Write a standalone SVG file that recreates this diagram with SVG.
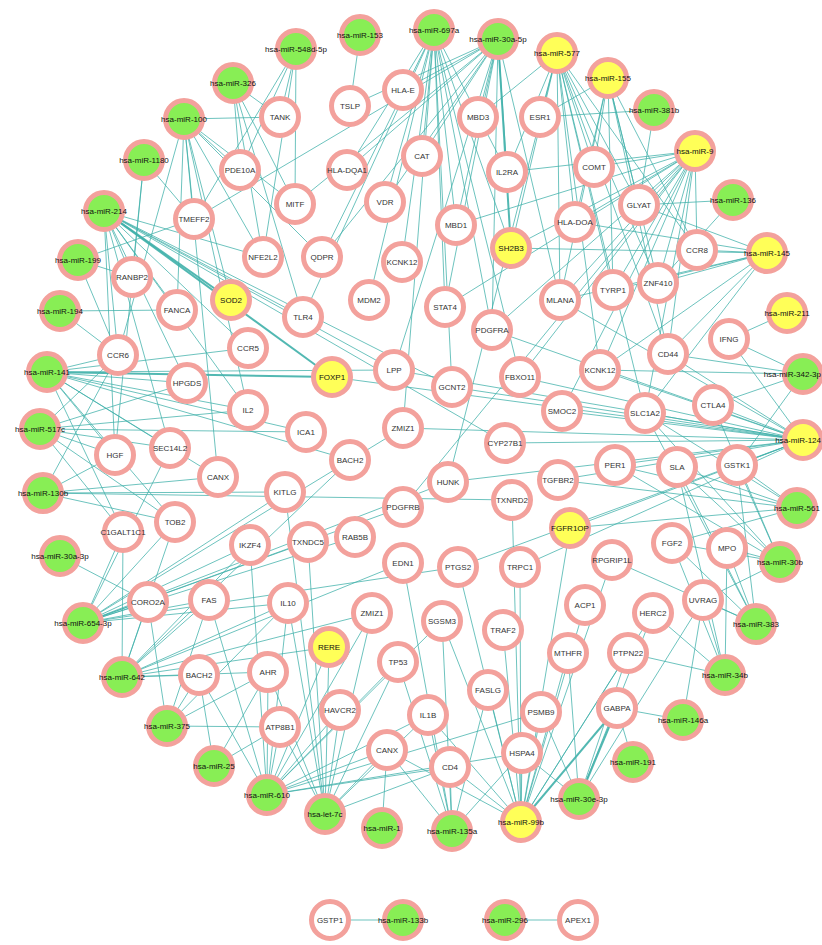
<svg xmlns="http://www.w3.org/2000/svg" width="822" height="945" viewBox="0 0 822 945">
<style>
#edges line{stroke:#3fb0aa;stroke-width:0.85;stroke-opacity:0.9}
#edges line.t{stroke-width:2}
.n circle{stroke:#f3a19c;stroke-width:5;fill:#fff}
.m circle{fill:#88ee55}
.y circle{fill:#ffff58}
.n text{font-family:"Liberation Sans",Arial,sans-serif;font-size:8px;fill:#333;text-anchor:middle;dominant-baseline:central}
.m text,.y text{fill:#111}
.n text.e{text-anchor:end}
</style>
<rect width="822" height="945" fill="#fff"/>
<g id="edges">
<line x1="296" y1="49" x2="280" y2="117"/><line x1="296" y1="49" x2="295" y2="204"/><line x1="296" y1="49" x2="240" y2="170"/><line x1="296" y1="49" x2="194" y2="219"/><line x1="296" y1="49" x2="263" y2="257"/>
<line x1="360" y1="35" x2="350" y2="106"/>
<line x1="434" y1="30" x2="422" y2="156"/><line x1="434" y1="30" x2="456" y2="225"/><line x1="434" y1="30" x2="507" y2="172"/><line x1="434" y1="30" x2="445" y2="307"/><line x1="434" y1="30" x2="402" y2="262"/><line x1="434" y1="30" x2="369" y2="300"/><line x1="434" y1="30" x2="520" y2="377"/><line x1="434" y1="30" x2="492" y2="330"/><line x1="434" y1="30" x2="347" y2="170"/><line x1="434" y1="30" x2="452" y2="387"/><line x1="434" y1="30" x2="511" y2="248"/><line x1="434" y1="30" x2="385" y2="202"/><line x1="434" y1="30" x2="403" y2="428"/><line x1="434" y1="30" x2="322" y2="257"/><line x1="434" y1="30" x2="303" y2="317"/>
<line x1="498" y1="39" x2="478" y2="117"/><line x1="498" y1="39" x2="507" y2="172"/><line x1="498" y1="39" x2="456" y2="225"/><line x1="498" y1="39" x2="422" y2="156"/><line x1="498" y1="39" x2="511" y2="248" class="t"/><line x1="498" y1="39" x2="445" y2="307"/><line x1="498" y1="39" x2="347" y2="170"/><line x1="498" y1="39" x2="492" y2="330"/><line x1="498" y1="39" x2="295" y2="204"/><line x1="498" y1="39" x2="350" y2="106"/><line x1="498" y1="39" x2="403" y2="90"/><line x1="498" y1="39" x2="194" y2="219"/><line x1="498" y1="39" x2="394" y2="370"/><line x1="498" y1="39" x2="560" y2="300"/><line x1="498" y1="39" x2="322" y2="257"/><line x1="498" y1="39" x2="385" y2="202"/>
<line x1="557" y1="53" x2="540" y2="117"/><line x1="557" y1="53" x2="575" y2="222"/><line x1="557" y1="53" x2="594" y2="167"/><line x1="557" y1="53" x2="639" y2="205"/><line x1="557" y1="53" x2="560" y2="300"/><line x1="557" y1="53" x2="613" y2="290"/><line x1="557" y1="53" x2="600" y2="370"/><line x1="557" y1="53" x2="511" y2="248"/><line x1="557" y1="53" x2="507" y2="172"/><line x1="557" y1="53" x2="697" y2="250"/><line x1="557" y1="53" x2="668" y2="354"/><line x1="557" y1="53" x2="478" y2="117"/><line x1="557" y1="53" x2="645" y2="413"/><line x1="557" y1="53" x2="658" y2="283"/><line x1="557" y1="53" x2="448" y2="482"/>
<line x1="608" y1="78" x2="594" y2="167"/><line x1="608" y1="78" x2="639" y2="205"/><line x1="608" y1="78" x2="575" y2="222"/><line x1="608" y1="78" x2="658" y2="283"/><line x1="608" y1="78" x2="613" y2="290"/><line x1="608" y1="78" x2="540" y2="117"/><line x1="608" y1="78" x2="697" y2="250"/><line x1="608" y1="78" x2="668" y2="354"/><line x1="608" y1="78" x2="560" y2="300"/>
<line x1="654" y1="110" x2="540" y2="117"/><line x1="654" y1="110" x2="639" y2="205"/>
<line x1="695" y1="151" x2="594" y2="167"/><line x1="695" y1="151" x2="639" y2="205"/><line x1="695" y1="151" x2="575" y2="222"/><line x1="695" y1="151" x2="511" y2="248"/><line x1="695" y1="151" x2="658" y2="283"/><line x1="695" y1="151" x2="613" y2="290"/><line x1="695" y1="151" x2="600" y2="370"/><line x1="695" y1="151" x2="560" y2="300"/><line x1="695" y1="151" x2="668" y2="354"/><line x1="695" y1="151" x2="492" y2="330"/><line x1="695" y1="151" x2="645" y2="413"/><line x1="695" y1="151" x2="445" y2="307"/><line x1="695" y1="151" x2="507" y2="172"/><line x1="695" y1="151" x2="520" y2="377"/><line x1="695" y1="151" x2="562" y2="411"/><line x1="695" y1="151" x2="697" y2="250"/><line x1="695" y1="151" x2="456" y2="225"/><line x1="695" y1="151" x2="403" y2="507"/>
<line x1="733" y1="200" x2="658" y2="283"/><line x1="733" y1="200" x2="639" y2="205"/>
<line x1="767" y1="253" x2="697" y2="250"/><line x1="767" y1="253" x2="658" y2="283"/><line x1="767" y1="253" x2="613" y2="290"/><line x1="767" y1="253" x2="668" y2="354"/><line x1="767" y1="253" x2="645" y2="413"/><line x1="767" y1="253" x2="560" y2="300"/><line x1="767" y1="253" x2="600" y2="370"/><line x1="767" y1="253" x2="639" y2="205"/><line x1="767" y1="253" x2="575" y2="222"/><line x1="767" y1="253" x2="511" y2="248"/>
<line x1="787" y1="313" x2="729" y2="339"/>
<line x1="803" y1="374" x2="668" y2="354"/><line x1="803" y1="374" x2="729" y2="339"/><line x1="803" y1="374" x2="713" y2="405"/><line x1="803" y1="374" x2="600" y2="370"/><line x1="803" y1="374" x2="737" y2="465"/>
<line x1="803" y1="440" x2="713" y2="405"/><line x1="803" y1="440" x2="645" y2="413"/><line x1="803" y1="440" x2="600" y2="370"/><line x1="803" y1="440" x2="668" y2="354"/><line x1="803" y1="440" x2="737" y2="465"/><line x1="803" y1="440" x2="562" y2="411"/><line x1="803" y1="440" x2="560" y2="300"/><line x1="803" y1="440" x2="492" y2="330"/><line x1="803" y1="440" x2="520" y2="377"/><line x1="803" y1="440" x2="452" y2="387"/><line x1="803" y1="440" x2="332" y2="377"/><line x1="803" y1="440" x2="729" y2="339"/><line x1="803" y1="440" x2="558" y2="480"/><line x1="803" y1="440" x2="615" y2="465"/><line x1="803" y1="440" x2="505" y2="443"/><line x1="803" y1="440" x2="394" y2="370"/><line x1="803" y1="440" x2="448" y2="482"/><line x1="803" y1="440" x2="570" y2="528"/><line x1="803" y1="440" x2="403" y2="428"/><line x1="803" y1="440" x2="458" y2="567"/><line x1="803" y1="440" x2="520" y2="567"/>
<line x1="797" y1="508" x2="737" y2="465"/><line x1="797" y1="508" x2="677" y2="467"/><line x1="797" y1="508" x2="570" y2="528"/><line x1="797" y1="508" x2="672" y2="543"/><line x1="797" y1="508" x2="615" y2="465"/><line x1="797" y1="508" x2="558" y2="480"/><line x1="797" y1="508" x2="645" y2="413"/>
<line x1="780" y1="562" x2="727" y2="548"/><line x1="780" y1="562" x2="737" y2="465"/><line x1="780" y1="562" x2="677" y2="467"/><line x1="780" y1="562" x2="672" y2="543"/><line x1="780" y1="562" x2="645" y2="413"/><line x1="780" y1="562" x2="615" y2="465"/><line x1="780" y1="562" x2="703" y2="600"/><line x1="780" y1="562" x2="713" y2="405"/>
<line x1="756" y1="624" x2="727" y2="548"/><line x1="756" y1="624" x2="703" y2="600"/><line x1="756" y1="624" x2="677" y2="467"/><line x1="756" y1="624" x2="672" y2="543"/><line x1="756" y1="624" x2="737" y2="465"/><line x1="756" y1="624" x2="645" y2="413"/><line x1="756" y1="624" x2="612" y2="560"/>
<line x1="725" y1="675" x2="653" y2="613"/><line x1="725" y1="675" x2="703" y2="600"/><line x1="725" y1="675" x2="672" y2="543"/><line x1="725" y1="675" x2="628" y2="653"/><line x1="725" y1="675" x2="727" y2="548"/><line x1="725" y1="675" x2="677" y2="467"/>
<line x1="683" y1="720" x2="617" y2="708"/><line x1="683" y1="720" x2="703" y2="600"/>
<line x1="633" y1="762" x2="617" y2="708"/>
<line x1="579" y1="799" x2="617" y2="708" class="t"/><line x1="579" y1="799" x2="541" y2="712"/><line x1="579" y1="799" x2="522" y2="753"/><line x1="579" y1="799" x2="628" y2="653"/><line x1="579" y1="799" x2="653" y2="613"/><line x1="579" y1="799" x2="568" y2="653"/><line x1="579" y1="799" x2="703" y2="600"/>
<line x1="521" y1="822" x2="522" y2="753"/><line x1="521" y1="822" x2="450" y2="767"/><line x1="521" y1="822" x2="617" y2="708" class="t"/><line x1="521" y1="822" x2="628" y2="653"/><line x1="521" y1="822" x2="488" y2="690"/><line x1="521" y1="822" x2="541" y2="712"/><line x1="521" y1="822" x2="503" y2="630"/><line x1="521" y1="822" x2="568" y2="653"/><line x1="521" y1="822" x2="520" y2="567"/><line x1="521" y1="822" x2="653" y2="613"/><line x1="521" y1="822" x2="387" y2="750"/><line x1="521" y1="822" x2="428" y2="715"/><line x1="521" y1="822" x2="585" y2="605"/><line x1="521" y1="822" x2="442" y2="621"/><line x1="521" y1="822" x2="458" y2="567"/><line x1="521" y1="822" x2="612" y2="560"/><line x1="521" y1="822" x2="512" y2="500"/><line x1="521" y1="822" x2="570" y2="528"/>
<line x1="452" y1="831" x2="450" y2="767"/><line x1="452" y1="831" x2="428" y2="715"/><line x1="452" y1="831" x2="387" y2="750"/><line x1="452" y1="831" x2="442" y2="621"/><line x1="452" y1="831" x2="488" y2="690"/><line x1="452" y1="831" x2="398" y2="662"/><line x1="452" y1="831" x2="522" y2="753"/><line x1="452" y1="831" x2="403" y2="563"/>
<line x1="382" y1="828" x2="387" y2="750"/>
<line x1="325" y1="814" x2="340" y2="710"/><line x1="325" y1="814" x2="280" y2="727"/><line x1="325" y1="814" x2="288" y2="603"/><line x1="325" y1="814" x2="329" y2="647"/><line x1="325" y1="814" x2="387" y2="750"/><line x1="325" y1="814" x2="428" y2="715"/><line x1="325" y1="814" x2="398" y2="662"/><line x1="325" y1="814" x2="372" y2="613"/><line x1="325" y1="814" x2="450" y2="767"/><line x1="325" y1="814" x2="268" y2="672"/><line x1="325" y1="814" x2="308" y2="542"/><line x1="325" y1="814" x2="285" y2="492"/>
<line x1="267" y1="795" x2="280" y2="727"/><line x1="267" y1="795" x2="340" y2="710"/><line x1="267" y1="795" x2="387" y2="750"/><line x1="267" y1="795" x2="268" y2="672"/><line x1="267" y1="795" x2="288" y2="603"/><line x1="267" y1="795" x2="329" y2="647"/><line x1="267" y1="795" x2="372" y2="613"/><line x1="267" y1="795" x2="428" y2="715"/><line x1="267" y1="795" x2="450" y2="767"/><line x1="267" y1="795" x2="199" y2="675"/><line x1="267" y1="795" x2="209" y2="600"/><line x1="267" y1="795" x2="398" y2="662"/><line x1="267" y1="795" x2="442" y2="621"/><line x1="267" y1="795" x2="541" y2="712"/><line x1="267" y1="795" x2="522" y2="753"/><line x1="267" y1="795" x2="250" y2="545"/>
<line x1="214" y1="766" x2="268" y2="672"/><line x1="214" y1="766" x2="199" y2="675"/><line x1="214" y1="766" x2="280" y2="727"/>
<line x1="167" y1="726" x2="199" y2="675"/><line x1="167" y1="726" x2="268" y2="672"/><line x1="167" y1="726" x2="280" y2="727"/><line x1="167" y1="726" x2="209" y2="600"/><line x1="167" y1="726" x2="288" y2="603"/><line x1="167" y1="726" x2="148" y2="602"/>
<line x1="122" y1="677" x2="148" y2="602"/><line x1="122" y1="677" x2="199" y2="675"/><line x1="122" y1="677" x2="268" y2="672"/><line x1="122" y1="677" x2="209" y2="600"/><line x1="122" y1="677" x2="288" y2="603"/><line x1="122" y1="677" x2="329" y2="647"/><line x1="122" y1="677" x2="403" y2="563"/><line x1="122" y1="677" x2="372" y2="613"/><line x1="122" y1="677" x2="175" y2="522"/><line x1="122" y1="677" x2="123" y2="532"/><line x1="122" y1="677" x2="250" y2="545"/><line x1="122" y1="677" x2="350" y2="460"/>
<line x1="83" y1="623" x2="123" y2="532"/><line x1="83" y1="623" x2="148" y2="602"/><line x1="83" y1="623" x2="209" y2="600"/><line x1="83" y1="623" x2="250" y2="545"/><line x1="83" y1="623" x2="175" y2="522"/><line x1="83" y1="623" x2="285" y2="492"/><line x1="83" y1="623" x2="288" y2="603"/><line x1="83" y1="623" x2="308" y2="542"/><line x1="83" y1="623" x2="355" y2="537"/><line x1="83" y1="623" x2="403" y2="507"/><line x1="83" y1="623" x2="448" y2="482"/><line x1="83" y1="623" x2="170" y2="448"/><line x1="83" y1="623" x2="403" y2="428"/><line x1="83" y1="623" x2="458" y2="567"/>
<line x1="60" y1="556" x2="148" y2="602"/>
<line x1="43" y1="493" x2="175" y2="522"/><line x1="43" y1="493" x2="285" y2="492"/><line x1="43" y1="493" x2="218" y2="477"/><line x1="43" y1="493" x2="115" y2="455"/><line x1="43" y1="493" x2="118" y2="355"/><line x1="43" y1="493" x2="512" y2="500"/>
<line x1="40" y1="429" x2="118" y2="355"/><line x1="40" y1="429" x2="187" y2="383"/><line x1="40" y1="429" x2="115" y2="455"/><line x1="40" y1="429" x2="170" y2="448"/><line x1="40" y1="429" x2="123" y2="532"/><line x1="40" y1="429" x2="248" y2="410"/><line x1="40" y1="429" x2="306" y2="432"/><line x1="40" y1="429" x2="175" y2="522"/>
<line x1="47" y1="372" x2="118" y2="355"/><line x1="47" y1="372" x2="187" y2="383"/><line x1="47" y1="372" x2="248" y2="348"/><line x1="47" y1="372" x2="332" y2="377" class="t"/><line x1="47" y1="372" x2="170" y2="448"/><line x1="47" y1="372" x2="115" y2="455"/><line x1="47" y1="372" x2="175" y2="522"/><line x1="47" y1="372" x2="306" y2="432"/><line x1="47" y1="372" x2="394" y2="370"/><line x1="47" y1="372" x2="218" y2="477"/><line x1="47" y1="372" x2="350" y2="460"/><line x1="47" y1="372" x2="123" y2="532"/><line x1="47" y1="372" x2="248" y2="410"/>
<line x1="60" y1="311" x2="177" y2="310"/><line x1="60" y1="311" x2="118" y2="355"/>
<line x1="78" y1="260" x2="132" y2="277"/><line x1="78" y1="260" x2="194" y2="219"/><line x1="78" y1="260" x2="118" y2="355"/>
<line x1="104" y1="211" x2="132" y2="277"/><line x1="104" y1="211" x2="177" y2="310"/><line x1="104" y1="211" x2="231" y2="300" class="t"/><line x1="104" y1="211" x2="332" y2="377" class="t"/><line x1="104" y1="211" x2="118" y2="355"/><line x1="104" y1="211" x2="187" y2="383"/><line x1="104" y1="211" x2="303" y2="317"/><line x1="104" y1="211" x2="394" y2="370"/><line x1="104" y1="211" x2="115" y2="455"/><line x1="104" y1="211" x2="170" y2="448"/><line x1="104" y1="211" x2="248" y2="348"/><line x1="104" y1="211" x2="452" y2="387"/><line x1="104" y1="211" x2="505" y2="443"/><line x1="104" y1="211" x2="263" y2="257"/><line x1="104" y1="211" x2="248" y2="410"/>
<line x1="144" y1="160" x2="194" y2="219"/><line x1="144" y1="160" x2="132" y2="277"/><line x1="144" y1="160" x2="115" y2="455"/>
<line x1="184" y1="119" x2="280" y2="117"/><line x1="184" y1="119" x2="240" y2="170"/><line x1="184" y1="119" x2="194" y2="219"/><line x1="184" y1="119" x2="263" y2="257"/><line x1="184" y1="119" x2="322" y2="257"/><line x1="184" y1="119" x2="231" y2="300"/><line x1="184" y1="119" x2="295" y2="204"/><line x1="184" y1="119" x2="118" y2="355"/><line x1="184" y1="119" x2="177" y2="310"/><line x1="184" y1="119" x2="248" y2="410"/><line x1="184" y1="119" x2="218" y2="477"/>
<line x1="233" y1="83" x2="280" y2="117"/><line x1="233" y1="83" x2="240" y2="170"/><line x1="233" y1="83" x2="295" y2="204"/><line x1="233" y1="83" x2="263" y2="257"/><line x1="233" y1="83" x2="303" y2="317"/>
<line x1="330" y1="920" x2="403" y2="920"/><line x1="505" y1="920" x2="578" y2="920"/>
</g>
<g id="n-hsa-miR-548d-5p" class="n m"><circle cx="296" cy="49" r="18.5"/><text x="296" y="49">hsa-miR-548d-5p</text></g>
<g id="n-hsa-miR-153" class="n m"><circle cx="360" cy="35" r="18.5"/><text x="360" y="35">hsa-miR-153</text></g>
<g id="n-hsa-miR-697a" class="n m"><circle cx="434" cy="30" r="18.5"/><text x="434" y="30">hsa-miR-697a</text></g>
<g id="n-hsa-miR-30a-5p" class="n m"><circle cx="498" cy="39" r="18.5"/><text x="498" y="39">hsa-miR-30a-5p</text></g>
<g id="n-hsa-miR-577" class="n y"><circle cx="557" cy="53" r="18.5"/><text x="557" y="53">hsa-miR-577</text></g>
<g id="n-hsa-miR-155" class="n y"><circle cx="608" cy="78" r="18.5"/><text x="608" y="78">hsa-miR-155</text></g>
<g id="n-hsa-miR-381b" class="n m"><circle cx="654" cy="110" r="18.5"/><text x="654" y="110">hsa-miR-381b</text></g>
<g id="n-hsa-miR-9" class="n y"><circle cx="695" cy="151" r="18.5"/><text x="695" y="151">hsa-miR-9</text></g>
<g id="n-hsa-miR-136" class="n m"><circle cx="733" cy="200" r="18.5"/><text x="733" y="200">hsa-miR-136</text></g>
<g id="n-hsa-miR-145" class="n y"><circle cx="767" cy="253" r="18.5"/><text x="767" y="253">hsa-miR-145</text></g>
<g id="n-hsa-miR-211" class="n y"><circle cx="787" cy="313" r="18.5"/><text x="787" y="313">hsa-miR-211</text></g>
<g id="n-hsa-miR-342" class="n m"><circle cx="803" cy="374" r="18.5"/><text class="e" x="821" y="374">hsa-miR-342-3p</text></g>
<g id="n-hsa-miR-124" class="n y"><circle cx="803" cy="440" r="18.5"/><text class="e" x="821" y="440">hsa-miR-124</text></g>
<g id="n-hsa-miR-561" class="n m"><circle cx="797" cy="508" r="18.5"/><text x="797" y="508">hsa-miR-561</text></g>
<g id="n-hsa-miR-30b" class="n m"><circle cx="780" cy="562" r="18.5"/><text x="780" y="562">hsa-miR-30b</text></g>
<g id="n-hsa-miR-383" class="n m"><circle cx="756" cy="624" r="18.5"/><text x="756" y="624">hsa-miR-383</text></g>
<g id="n-hsa-miR-34b" class="n m"><circle cx="725" cy="675" r="18.5"/><text x="725" y="675">hsa-miR-34b</text></g>
<g id="n-hsa-miR-146a" class="n m"><circle cx="683" cy="720" r="18.5"/><text x="683" y="720">hsa-miR-146a</text></g>
<g id="n-hsa-miR-191" class="n m"><circle cx="633" cy="762" r="18.5"/><text x="633" y="762">hsa-miR-191</text></g>
<g id="n-hsa-miR-30e-3p" class="n m"><circle cx="579" cy="799" r="18.5"/><text x="579" y="799">hsa-miR-30e-3p</text></g>
<g id="n-hsa-miR-99b" class="n y"><circle cx="521" cy="822" r="18.5"/><text x="521" y="822">hsa-miR-99b</text></g>
<g id="n-hsa-miR-135a" class="n m"><circle cx="452" cy="831" r="18.5"/><text x="452" y="831">hsa-miR-135a</text></g>
<g id="n-hsa-miR-1" class="n m"><circle cx="382" cy="828" r="18.5"/><text x="382" y="828">hsa-miR-1</text></g>
<g id="n-hsa-let-7c" class="n m"><circle cx="325" cy="814" r="18.5"/><text x="325" y="814">hsa-let-7c</text></g>
<g id="n-hsa-miR-610" class="n m"><circle cx="267" cy="795" r="18.5"/><text x="267" y="795">hsa-miR-610</text></g>
<g id="n-hsa-miR-25" class="n m"><circle cx="214" cy="766" r="18.5"/><text x="214" y="766">hsa-miR-25</text></g>
<g id="n-hsa-miR-375" class="n m"><circle cx="167" cy="726" r="18.5"/><text x="167" y="726">hsa-miR-375</text></g>
<g id="n-hsa-miR-642" class="n m"><circle cx="122" cy="677" r="18.5"/><text x="122" y="677">hsa-miR-642</text></g>
<g id="n-hsa-miR-654-3p" class="n m"><circle cx="83" cy="623" r="18.5"/><text x="83" y="623">hsa-miR-654-3p</text></g>
<g id="n-hsa-miR-30a-3p" class="n m"><circle cx="60" cy="556" r="18.5"/><text x="60" y="556">hsa-miR-30a-3p</text></g>
<g id="n-hsa-miR-130b" class="n m"><circle cx="43" cy="493" r="18.5"/><text x="43" y="493">hsa-miR-130b</text></g>
<g id="n-hsa-miR-517c" class="n m"><circle cx="40" cy="429" r="18.5"/><text x="40" y="429">hsa-miR-517c</text></g>
<g id="n-hsa-miR-141" class="n m"><circle cx="47" cy="372" r="18.5"/><text x="47" y="372">hsa-miR-141</text></g>
<g id="n-hsa-miR-194" class="n m"><circle cx="60" cy="311" r="18.5"/><text x="60" y="311">hsa-miR-194</text></g>
<g id="n-hsa-miR-199" class="n m"><circle cx="78" cy="260" r="18.5"/><text x="78" y="260">hsa-miR-199</text></g>
<g id="n-hsa-miR-214" class="n m"><circle cx="104" cy="211" r="18.5"/><text x="104" y="211">hsa-miR-214</text></g>
<g id="n-hsa-miR-1180" class="n m"><circle cx="144" cy="160" r="18.5"/><text x="144" y="160">hsa-miR-1180</text></g>
<g id="n-hsa-miR-100" class="n m"><circle cx="184" cy="119" r="18.5"/><text x="184" y="119">hsa-miR-100</text></g>
<g id="n-hsa-miR-326" class="n m"><circle cx="233" cy="83" r="18.5"/><text x="233" y="83">hsa-miR-326</text></g>
<g id="n-GSTP1" class="n"><circle cx="330" cy="920" r="18.5"/><text x="330" y="920">GSTP1</text></g>
<g id="n-hsa-miR-133b" class="n m"><circle cx="403" cy="920" r="18.5"/><text x="403" y="920">hsa-miR-133b</text></g>
<g id="n-hsa-miR-296" class="n m"><circle cx="505" cy="920" r="18.5"/><text x="505" y="920">hsa-miR-296</text></g>
<g id="n-APEX1" class="n"><circle cx="578" cy="920" r="18.5"/><text x="578" y="920">APEX1</text></g>
<g id="n-TANK" class="n"><circle cx="280" cy="117" r="18.5"/><text x="280" y="117">TANK</text></g>
<g id="n-TSLP" class="n"><circle cx="350" cy="106" r="18.5"/><text x="350" y="106">TSLP</text></g>
<g id="n-HLA-E" class="n"><circle cx="403" cy="90" r="18.5"/><text x="403" y="90">HLA-E</text></g>
<g id="n-MBD3" class="n"><circle cx="478" cy="117" r="18.5"/><text x="478" y="117">MBD3</text></g>
<g id="n-ESR1" class="n"><circle cx="540" cy="117" r="18.5"/><text x="540" y="117">ESR1</text></g>
<g id="n-PDE10A" class="n"><circle cx="240" cy="170" r="18.5"/><text x="240" y="170">PDE10A</text></g>
<g id="n-HLA-DQA1" class="n"><circle cx="347" cy="170" r="18.5"/><text x="347" y="170">HLA-DQA1</text></g>
<g id="n-CAT" class="n"><circle cx="422" cy="156" r="18.5"/><text x="422" y="156">CAT</text></g>
<g id="n-IL2RA" class="n"><circle cx="507" cy="172" r="18.5"/><text x="507" y="172">IL2RA</text></g>
<g id="n-COMT" class="n"><circle cx="594" cy="167" r="18.5"/><text x="594" y="167">COMT</text></g>
<g id="n-MITF" class="n"><circle cx="295" cy="204" r="18.5"/><text x="295" y="204">MITF</text></g>
<g id="n-VDR" class="n"><circle cx="385" cy="202" r="18.5"/><text x="385" y="202">VDR</text></g>
<g id="n-MBD1" class="n"><circle cx="456" cy="225" r="18.5"/><text x="456" y="225">MBD1</text></g>
<g id="n-HLA-DOA" class="n"><circle cx="575" cy="222" r="18.5"/><text x="575" y="222">HLA-DOA</text></g>
<g id="n-GLYAT" class="n"><circle cx="639" cy="205" r="18.5"/><text x="639" y="205">GLYAT</text></g>
<g id="n-TMEFF2" class="n"><circle cx="194" cy="219" r="18.5"/><text x="194" y="219">TMEFF2</text></g>
<g id="n-NFE2L2" class="n"><circle cx="263" cy="257" r="18.5"/><text x="263" y="257">NFE2L2</text></g>
<g id="n-QDPR" class="n"><circle cx="322" cy="257" r="18.5"/><text x="322" y="257">QDPR</text></g>
<g id="n-KCNK12" class="n"><circle cx="402" cy="262" r="18.5"/><text x="402" y="262">KCNK12</text></g>
<g id="n-SH2B3" class="n y"><circle cx="511" cy="248" r="18.5"/><text x="511" y="248">SH2B3</text></g>
<g id="n-CCR8" class="n"><circle cx="697" cy="250" r="18.5"/><text x="697" y="250">CCR8</text></g>
<g id="n-RANBP2" class="n"><circle cx="132" cy="277" r="18.5"/><text x="132" y="277">RANBP2</text></g>
<g id="n-FANCA" class="n"><circle cx="177" cy="310" r="18.5"/><text x="177" y="310">FANCA</text></g>
<g id="n-SOD2" class="n y"><circle cx="231" cy="300" r="18.5"/><text x="231" y="300">SOD2</text></g>
<g id="n-TLR4" class="n"><circle cx="303" cy="317" r="18.5"/><text x="303" y="317">TLR4</text></g>
<g id="n-MDM2" class="n"><circle cx="369" cy="300" r="18.5"/><text x="369" y="300">MDM2</text></g>
<g id="n-STAT4" class="n"><circle cx="445" cy="307" r="18.5"/><text x="445" y="307">STAT4</text></g>
<g id="n-MLANA" class="n"><circle cx="560" cy="300" r="18.5"/><text x="560" y="300">MLANA</text></g>
<g id="n-TYRP1" class="n"><circle cx="613" cy="290" r="18.5"/><text x="613" y="290">TYRP1</text></g>
<g id="n-ZNF410" class="n"><circle cx="658" cy="283" r="18.5"/><text x="658" y="283">ZNF410</text></g>
<g id="n-PDGFRA" class="n"><circle cx="492" cy="330" r="18.5"/><text x="492" y="330">PDGFRA</text></g>
<g id="n-IFNG" class="n"><circle cx="729" cy="339" r="18.5"/><text x="729" y="339">IFNG</text></g>
<g id="n-CCR6" class="n"><circle cx="118" cy="355" r="18.5"/><text x="118" y="355">CCR6</text></g>
<g id="n-CCR5" class="n"><circle cx="248" cy="348" r="18.5"/><text x="248" y="348">CCR5</text></g>
<g id="n-CD44" class="n"><circle cx="668" cy="354" r="18.5"/><text x="668" y="354">CD44</text></g>
<g id="n-KCNK12-2" class="n"><circle cx="600" cy="370" r="18.5"/><text x="600" y="370">KCNK12</text></g>
<g id="n-FOXP1" class="n y"><circle cx="332" cy="377" r="18.5"/><text x="332" y="377">FOXP1</text></g>
<g id="n-LPP" class="n"><circle cx="394" cy="370" r="18.5"/><text x="394" y="370">LPP</text></g>
<g id="n-GCNT2" class="n"><circle cx="452" cy="387" r="18.5"/><text x="452" y="387">GCNT2</text></g>
<g id="n-FBXO11" class="n"><circle cx="520" cy="377" r="18.5"/><text x="520" y="377">FBXO11</text></g>
<g id="n-HPGDS" class="n"><circle cx="187" cy="383" r="18.5"/><text x="187" y="383">HPGDS</text></g>
<g id="n-CTLA4" class="n"><circle cx="713" cy="405" r="18.5"/><text x="713" y="405">CTLA4</text></g>
<g id="n-IL2" class="n"><circle cx="248" cy="410" r="18.5"/><text x="248" y="410">IL2</text></g>
<g id="n-SMOC2" class="n"><circle cx="562" cy="411" r="18.5"/><text x="562" y="411">SMOC2</text></g>
<g id="n-SLC1A2" class="n"><circle cx="645" cy="413" r="18.5"/><text x="645" y="413">SLC1A2</text></g>
<g id="n-ICA1" class="n"><circle cx="306" cy="432" r="18.5"/><text x="306" y="432">ICA1</text></g>
<g id="n-ZMIZ1" class="n"><circle cx="403" cy="428" r="18.5"/><text x="403" y="428">ZMIZ1</text></g>
<g id="n-CYP27B1" class="n"><circle cx="505" cy="443" r="18.5"/><text x="505" y="443">CYP27B1</text></g>
<g id="n-HGF" class="n"><circle cx="115" cy="455" r="18.5"/><text x="115" y="455">HGF</text></g>
<g id="n-SEC14L2" class="n"><circle cx="170" cy="448" r="18.5"/><text x="170" y="448">SEC14L2</text></g>
<g id="n-BACH2" class="n"><circle cx="350" cy="460" r="18.5"/><text x="350" y="460">BACH2</text></g>
<g id="n-PER1" class="n"><circle cx="615" cy="465" r="18.5"/><text x="615" y="465">PER1</text></g>
<g id="n-SLA" class="n"><circle cx="677" cy="467" r="18.5"/><text x="677" y="467">SLA</text></g>
<g id="n-GSTK1" class="n"><circle cx="737" cy="465" r="18.5"/><text x="737" y="465">GSTK1</text></g>
<g id="n-CANX" class="n"><circle cx="218" cy="477" r="18.5"/><text x="218" y="477">CANX</text></g>
<g id="n-HUNK" class="n"><circle cx="448" cy="482" r="18.5"/><text x="448" y="482">HUNK</text></g>
<g id="n-TGFBR2" class="n"><circle cx="558" cy="480" r="18.5"/><text x="558" y="480">TGFBR2</text></g>
<g id="n-KITLG" class="n"><circle cx="285" cy="492" r="18.5"/><text x="285" y="492">KITLG</text></g>
<g id="n-TXNRD2" class="n"><circle cx="512" cy="500" r="18.5"/><text x="512" y="500">TXNRD2</text></g>
<g id="n-PDGFRB" class="n"><circle cx="403" cy="507" r="18.5"/><text x="403" y="507">PDGFRB</text></g>
<g id="n-TOB2" class="n"><circle cx="175" cy="522" r="18.5"/><text x="175" y="522">TOB2</text></g>
<g id="n-C1GALT1C1" class="n"><circle cx="123" cy="532" r="18.5"/><text x="123" y="532">C1GALT1C1</text></g>
<g id="n-FGFR1OP" class="n y"><circle cx="570" cy="528" r="18.5"/><text x="570" y="528">FGFR1OP</text></g>
<g id="n-TXNDC5" class="n"><circle cx="308" cy="542" r="18.5"/><text x="308" y="542">TXNDC5</text></g>
<g id="n-RAB5B" class="n"><circle cx="355" cy="537" r="18.5"/><text x="355" y="537">RAB5B</text></g>
<g id="n-IKZF4" class="n"><circle cx="250" cy="545" r="18.5"/><text x="250" y="545">IKZF4</text></g>
<g id="n-FGF2" class="n"><circle cx="672" cy="543" r="18.5"/><text x="672" y="543">FGF2</text></g>
<g id="n-MPO" class="n"><circle cx="727" cy="548" r="18.5"/><text x="727" y="548">MPO</text></g>
<g id="n-RPGRIP1L" class="n"><circle cx="612" cy="560" r="18.5"/><text x="612" y="560">RPGRIP1L</text></g>
<g id="n-EDN1" class="n"><circle cx="403" cy="563" r="18.5"/><text x="403" y="563">EDN1</text></g>
<g id="n-PTGS2" class="n"><circle cx="458" cy="567" r="18.5"/><text x="458" y="567">PTGS2</text></g>
<g id="n-TRPC1" class="n"><circle cx="520" cy="567" r="18.5"/><text x="520" y="567">TRPC1</text></g>
<g id="n-FAS" class="n"><circle cx="209" cy="600" r="18.5"/><text x="209" y="600">FAS</text></g>
<g id="n-CORO2A" class="n"><circle cx="148" cy="602" r="18.5"/><text x="148" y="602">CORO2A</text></g>
<g id="n-IL10" class="n"><circle cx="288" cy="603" r="18.5"/><text x="288" y="603">IL10</text></g>
<g id="n-UVRAG" class="n"><circle cx="703" cy="600" r="18.5"/><text x="703" y="600">UVRAG</text></g>
<g id="n-ACP1" class="n"><circle cx="585" cy="605" r="18.5"/><text x="585" y="605">ACP1</text></g>
<g id="n-ZMIZ1-2" class="n"><circle cx="372" cy="613" r="18.5"/><text x="372" y="613">ZMIZ1</text></g>
<g id="n-SGSM3" class="n"><circle cx="442" cy="621" r="18.5"/><text x="442" y="621">SGSM3</text></g>
<g id="n-HERC2" class="n"><circle cx="653" cy="613" r="18.5"/><text x="653" y="613">HERC2</text></g>
<g id="n-TRAF2" class="n"><circle cx="503" cy="630" r="18.5"/><text x="503" y="630">TRAF2</text></g>
<g id="n-RERE" class="n y"><circle cx="329" cy="647" r="18.5"/><text x="329" y="647">RERE</text></g>
<g id="n-MTHFR" class="n"><circle cx="568" cy="653" r="18.5"/><text x="568" y="653">MTHFR</text></g>
<g id="n-PTPN22" class="n"><circle cx="628" cy="653" r="18.5"/><text x="628" y="653">PTPN22</text></g>
<g id="n-TP53" class="n"><circle cx="398" cy="662" r="18.5"/><text x="398" y="662">TP53</text></g>
<g id="n-AHR" class="n"><circle cx="268" cy="672" r="18.5"/><text x="268" y="672">AHR</text></g>
<g id="n-BACH2-2" class="n"><circle cx="199" cy="675" r="18.5"/><text x="199" y="675">BACH2</text></g>
<g id="n-FASLG" class="n"><circle cx="488" cy="690" r="18.5"/><text x="488" y="690">FASLG</text></g>
<g id="n-HAVCR2" class="n"><circle cx="340" cy="710" r="18.5"/><text x="340" y="710">HAVCR2</text></g>
<g id="n-PSMB9" class="n"><circle cx="541" cy="712" r="18.5"/><text x="541" y="712">PSMB9</text></g>
<g id="n-GABPA" class="n"><circle cx="617" cy="708" r="18.5"/><text x="617" y="708">GABPA</text></g>
<g id="n-IL1B" class="n"><circle cx="428" cy="715" r="18.5"/><text x="428" y="715">IL1B</text></g>
<g id="n-ATP8B1" class="n"><circle cx="280" cy="727" r="18.5"/><text x="280" y="727">ATP8B1</text></g>
<g id="n-CANX-2" class="n"><circle cx="387" cy="750" r="18.5"/><text x="387" y="750">CANX</text></g>
<g id="n-HSPA4" class="n"><circle cx="522" cy="753" r="18.5"/><text x="522" y="753">HSPA4</text></g>
<g id="n-CD4" class="n"><circle cx="450" cy="767" r="18.5"/><text x="450" y="767">CD4</text></g>
</svg>
